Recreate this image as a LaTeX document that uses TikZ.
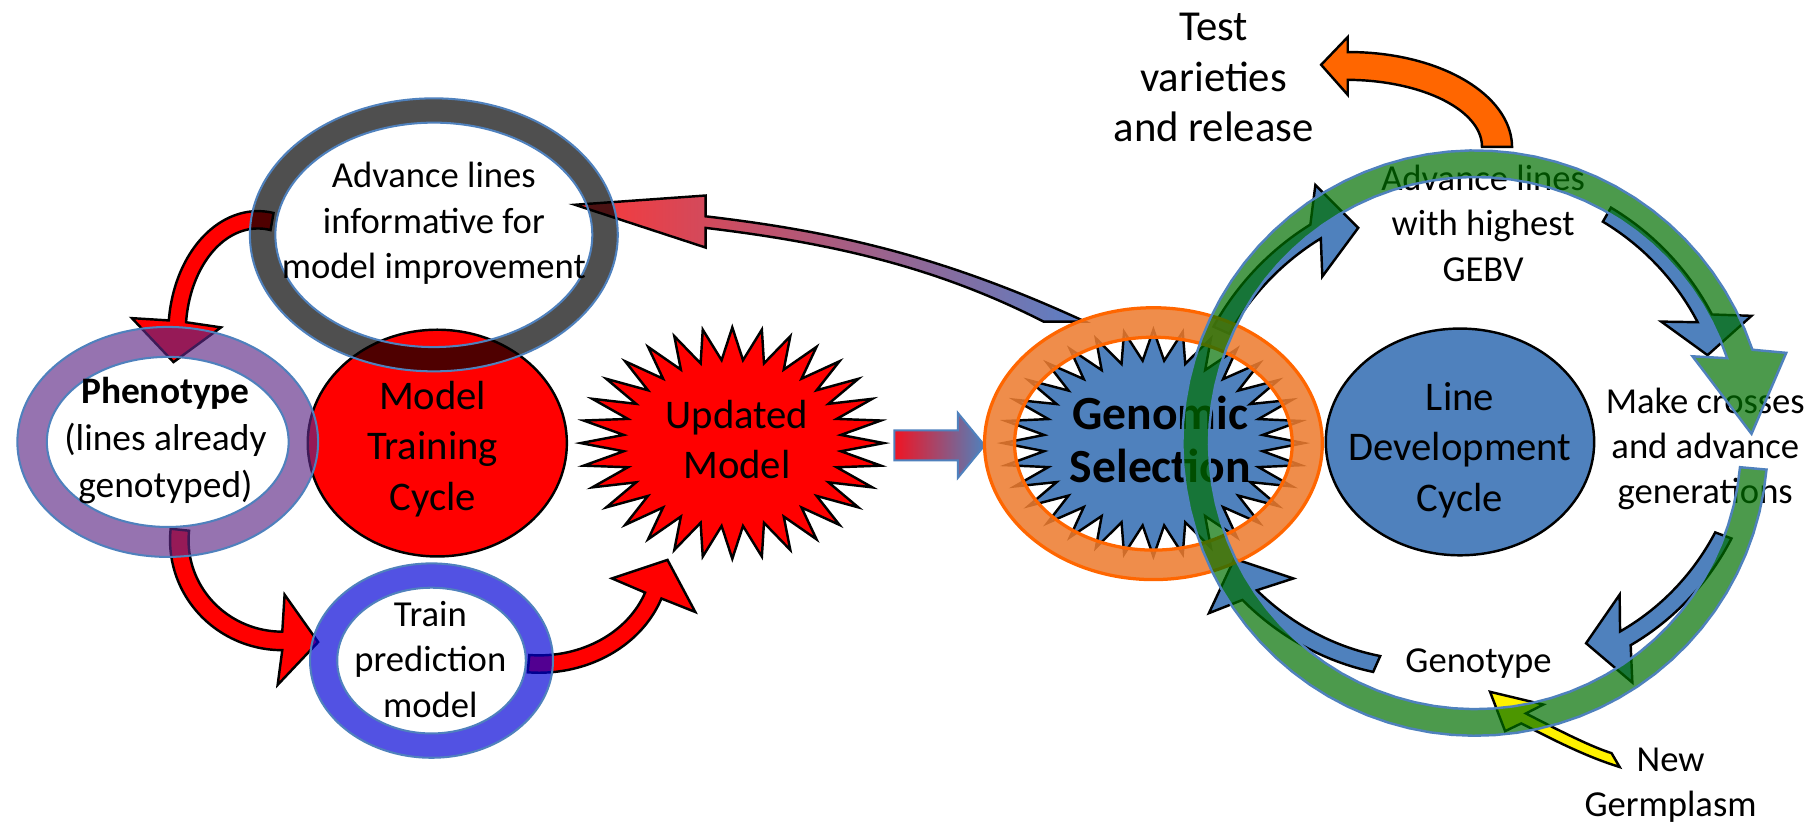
\documentclass[tikz,border=0pt]{standalone}
\usepackage{fontspec}
\setmainfont{Carlito}
\definecolor{ppblue}{RGB}{79,129,189}
\definecolor{ringblue}{RGB}{0,0,215}
\definecolor{ringpurple}{RGB}{94,40,134}
\definecolor{ringorange}{RGB}{237,125,49}
\definecolor{orangeline}{RGB}{255,102,0}
\definecolor{arrorange}{RGB}{255,102,0}
\definecolor{ringgreen}{RGB}{0,112,0}
\definecolor{gradred}{RGB}{252,55,55}
\definecolor{gradmid}{RGB}{200,100,150}
\definecolor{gradblue}{RGB}{90,128,198}
\definecolor{blockred}{RGB}{240,20,35}

\newcommand\setarc[8]{\def\Cx{#1}\def\Cy{#2}\def\RXa{#3}\def\RYa{#4}\def\RXb{#5}\def\RYb{#6}\def\Aa{#7}\def\Ab{#8}}
\newcommand\arcarrow[6]{%
  \path[#1] plot[domain=\Aa:\Ab, samples=80, variable=\aang]
   ({\Cx+(\RXa+(\RXb-\RXa)*(\aang-\Aa)/(\Ab-\Aa)+(#2)+((#3)-(#2))*(\aang-\Aa)/(\Ab-\Aa))*cos(\aang)},
    {\Cy+(\RYa+(\RYb-\RYa)*(\aang-\Aa)/(\Ab-\Aa)+(#2)+((#3)-(#2))*(\aang-\Aa)/(\Ab-\Aa))*sin(\aang)})
   -- #4 -- #5 -- #6 --
   plot[domain=\Ab:\Aa, samples=80, variable=\aang]
   ({\Cx+(\RXa+(\RXb-\RXa)*(\aang-\Aa)/(\Ab-\Aa)-(#2)-((#3)-(#2))*(\aang-\Aa)/(\Ab-\Aa))*cos(\aang)},
    {\Cy+(\RYa+(\RYb-\RYa)*(\aang-\Aa)/(\Ab-\Aa)-(#2)-((#3)-(#2))*(\aang-\Aa)/(\Ab-\Aa))*sin(\aang)})
   -- cycle;}
\newcommand\starpath[6]{%
  \path[#1] plot[samples at={0,...,63}, variable=\sidx]
   ({#2+#4*(1-(1-#6)*mod(\sidx,2))*cos(270+5.625*\sidx)},
    {#3+#5*(1-(1-#6)*mod(\sidx,2))*sin(270+5.625*\sidx)}) -- cycle;}
\newcommand\ringshape[8]{%
  \path[#1, even odd rule] (#3,#4) ellipse [x radius=#5, y radius=#6] (#3,#4) ellipse [x radius=#7, y radius=#8];
  \path[#2] (#3,#4) ellipse [x radius=#5, y radius=#6] (#3,#4) ellipse [x radius=#7, y radius=#8];}

\tikzset{
  outl/.style={draw=black, line width=0.6pt, line join=miter},
  redarr/.style={outl, fill=red},
  bluearr/.style={outl, fill=ppblue},
  ringedge/.style={draw=ppblue, line width=0.5pt},
  lbl/.style={align=center, inner sep=0pt, font=\fontsize{9}{11.1}\selectfont},
  bigl/.style={align=center, inner sep=0pt, font=\fontsize{10}{12.4}\selectfont},
}

\begin{document}
\begin{tikzpicture}[x=0.01cm, y=-0.01cm]
\fill[white] (0,0) rectangle (1568,712);
\useasboundingbox (0,0) rectangle (1568,712);

% ---- red connector arrows (left cycle)
\setarc{223}{288}{70}{98}{70}{98}{280}{186}
\arcarrow{redarr}{7.5}{7.5}{(114,275)}{(150,313)}{(191,283)}
\setarc{244}{467}{89}{87}{89}{87}{186}{90}
\arcarrow{redarr}{8}{8}{(240,592)}{(275,555)}{(246,514)}
\setarc{466}{484}{105}{90}{105}{90}{95}{20}
\arcarrow{redarr}{7.5}{7.5}{(601,529)}{(577,484)}{(529,500)}

% ---- gradient curved arrow from Genomic Selection to advance lines
\path[outl, left color=gradred, middle color=gradmid, right color=gradblue]
  (938,278) .. controls (814,221) and (721,200) .. (610,187) -- (610,169) -- (497,177)
  -- (610,214) -- (610,197) .. controls (719,210) and (810,231) .. (902,278) -- cycle;

% ---- Model training cycle
\path[outl, fill=red] (378,383) ellipse [x radius=112, y radius=98];
\node[bigl] (mtc) at (374,388) {Model\\Training\\Cycle};

% ---- rings
\ringshape{fill=black, fill opacity=0.69}{ringedge}{375}{203}{159}{118}{137}{97}
\node[lbl] (adv1) at (375,193) {Advance lines\\informative for\\model improvement};
\ringshape{fill=ringpurple, fill opacity=0.65}{ringedge}{145}{382}{130}{99.4}{104.5}{73.5}
\node[lbl, font=\fontsize{9.2}{11.5}\selectfont] (pheno) at (143,381) {\textbf{Phenotype}\\(lines already\\genotyped)};
\ringshape{fill=ringblue, fill opacity=0.68}{ringedge}{373}{571}{105}{84}{81.5}{63}
\node[lbl] (train) at (372,570) {Train\\prediction\\model};

% ---- Updated model
\starpath{outl, fill=red}{633}{383}{131}{100}{0.72}
\node[bigl] (upd) at (637,380) {Updated\\Model};

% ---- block arrow to Genomic Selection
\path[draw=ppblue, line width=0.5pt, left color=blockred, right color=ppblue]
  (773,372) -- (828,372) -- (828,357) -- (851,385) -- (828,413) -- (828,398) -- (773,398) -- cycle;

% ---- blue cycle arrows
\setarc{1275}{383}{240}{240}{229}{229}{204}{233}
\arcarrow{bluearr}{7.5}{7.5}{(1137,160)}{(1174,197)}{(1143,239)}
\setarc{1275}{383}{228}{228}{226}{226}{300}{331.5}
\arcarrow{bluearr}{7}{7}{(1514,273)}{(1476,307)}{(1436,278)}
\setarc{1275}{383}{229}{229}{213}{213}{20.4}{52.4}
\arcarrow{bluearr}{7.5}{7.5}{(1411,590)}{(1371,556)}{(1400,514)}
\setarc{1275}{383}{209}{209}{235}{235}{114}{146}
\arcarrow{bluearr}{7.5}{7.5}{(1045,530)}{(1067,483)}{(1118,500)}

% ---- Genomic selection
\starpath{outl, fill=ppblue}{997}{383}{130}{98}{0.73}
\node[align=center, inner sep=0pt, font=\bfseries\fontsize{11.7}{13.1}\selectfont] (gs) at (1003,380) {Genomic\\Selection};
\ringshape{fill=ringorange, fill opacity=0.87}{draw=orangeline, line width=0.8pt}{997}{383.5}{146}{117.5}{120}{92}

% ---- Line development cycle
\path[outl, fill=ppblue] (1262,382) ellipse [x radius=116, y radius=98];
\node[bigl] (ldc) at (1262,389) {Line\\Development\\Cycle};

% ---- labels of the right cycle
\node[align=center, inner sep=0pt, font=\fontsize{10.5}{12.5}\selectfont] (test) at (1049,67) {Test\\varieties\\and release};
\node[lbl] (adv2) at (1282,193) {Advance lines\\with highest\\GEBV};
\node[lbl] (mc) at (1474,388) {Make crosses\\and advance\\generations};
\node[lbl] (geno) at (1278,574) {Genotype};
\node[lbl] (ng) at (1444,679) {New\\Germplasm};

% ---- orange arrow to test varieties
\setarc{1165}{127}{129}{70}{129}{70}{360}{270}
\arcarrow{outl, fill=arrorange}{13}{12}{(1165,32)}{(1142,56)}{(1165,82)}

% ---- yellow arrow new germplasm
\path[outl, fill=yellow]
  (1393,651) .. controls (1376,645.7) and (1350,632.7) .. (1319,616.7) -- (1334,609) -- (1288,598)
  -- (1301,632) -- (1315,625.3) .. controls (1346,641.3) and (1372,654.3) .. (1400,663) -- cycle;

% ---- big green circular arrow
\setarc{1275}{383}{241.5}{241.5}{241.5}{241.5}{5.2}{341.4}
\arcarrow{fill=ringgreen, fill opacity=0.7, draw=ppblue, line width=0.6pt}{11.5}{11.5}{(1544,305)}{(1514,375)}{(1463,308)}
\end{tikzpicture}
\end{document}
